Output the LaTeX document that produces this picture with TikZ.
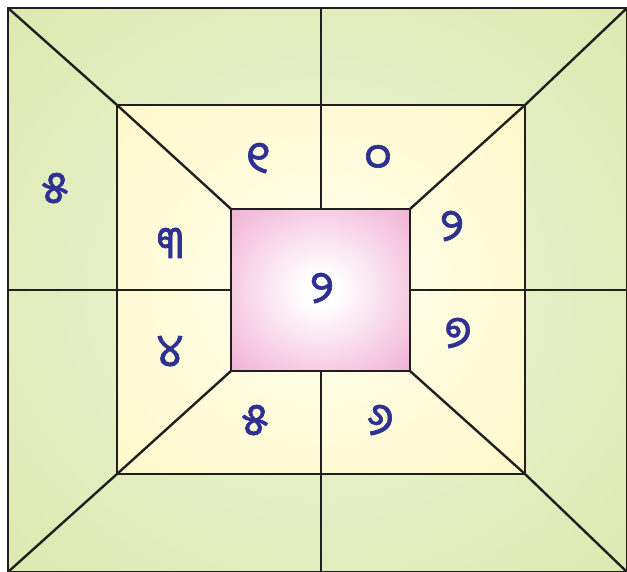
\documentclass[tikz,border=0pt]{standalone}
\usepackage{fontspec}
\newfontfamily\odia[Script=Oriya, FakeBold=1.5]{Noto Sans Oriya UI}
\definecolor{gin}{HTML}{EEF4DA}
\definecolor{gout}{HTML}{CDDD84}
\definecolor{yin}{HTML}{FFFEEE}
\definecolor{yout}{HTML}{FCF2A4}
\definecolor{pin}{HTML}{FFFFFF}
\definecolor{pout}{HTML}{EA86BC}
\definecolor{digit}{HTML}{2E3192}
\pgfdeclareradialshading{greenrad}{\pgfpoint{0bp}{0bp}}{color(0bp)=(gin); color(72bp)=(gout)}
\pgfdeclareradialshading{yelrad}{\pgfpoint{0bp}{0bp}}{color(0bp)=(yin); color(72bp)=(yout)}
\pgfdeclareradialshading{pinkrad}{\pgfpoint{0bp}{0bp}}{color(0bp)=(pin); color(5bp)=(pin); color(52bp)=(pout); color(72bp)=(pout)}
\tikzset{
  edge/.style={line width=2.4pt, black!88},
  num/.style={text=digit, font=\odia\fontsize{45}{45}\selectfont, inner sep=0pt},
}
\begin{document}
\begin{tikzpicture}[x=1pt,y=-1pt]
\useasboundingbox (0,0) rectangle (627,572);
\shade[shading=greenrad] (8,8) rectangle (627,572);
\shade[shading=yelrad] (117,105) rectangle (525,474);
\shade[shading=pinkrad] (231,209) rectangle (410,371);
\coordinate (O1) at (8,8); \coordinate (O2) at (627,8);
\coordinate (O3) at (627,572); \coordinate (O4) at (8,572);
\coordinate (I1) at (117,105); \coordinate (I2) at (525,105);
\coordinate (I3) at (525,474); \coordinate (I4) at (117,474);
\coordinate (C1) at (231,209); \coordinate (C2) at (410,209);
\coordinate (C3) at (410,371); \coordinate (C4) at (231,371);
\coordinate (T) at (321,8); \coordinate (B) at (321,572);
\coordinate (L) at (8,290); \coordinate (R) at (627,290);
\coordinate (CT) at (321,209); \coordinate (CB) at (321,371);
\coordinate (CL) at (231,290); \coordinate (CR) at (410,290);
\draw[edge] (O1) rectangle (O3);
\draw[edge] (I1) rectangle (I3);
\draw[edge] (C1) rectangle (C3);
\draw[edge] (O1) -- (I1) -- (C1);
\draw[edge] (O2) -- (I2) -- (C2);
\draw[edge] (O3) -- (I3) -- (C3);
\draw[edge] (O4) -- (I4) -- (C4);
\draw[edge] (T) -- (CT);
\draw[edge] (CB) -- (B);
\draw[edge] (L) -- (CL);
\draw[edge] (CR) -- (R);
\node[num] (n0) at (55,190) {୫};
\node[num] (n1) at (258,160) {୧};
\node[num] (n2) at (378,160) {୦};
\node[num] (n3) at (170,245) {୩};
\node[num] (n4) at (452,228) {୨};
\node[num] (n5) at (322,290) {୨};
\node[num] (n6) at (170,353) {୪};
\node[num] (n7) at (458,335) {୭};
\node[num] (n8) at (255,422) {୫};
\node[num] (n9) at (380,422) {୬};
\end{tikzpicture}
\end{document}
